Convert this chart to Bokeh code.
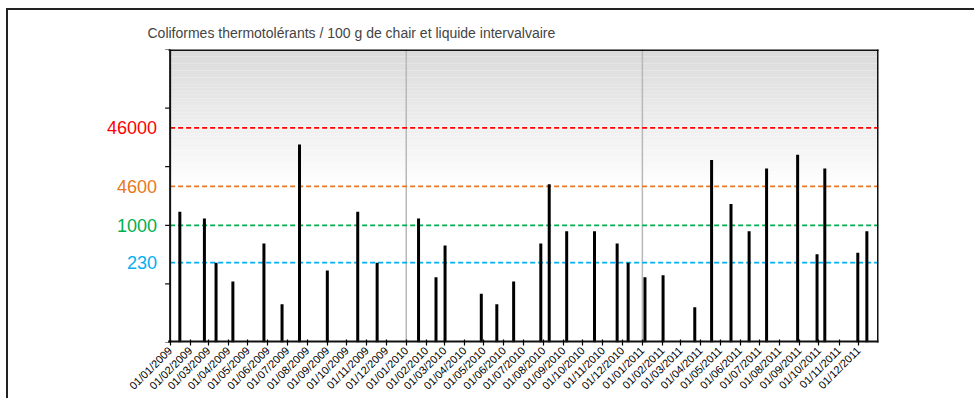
import math
import pandas as pd
from bokeh.plotting import figure
from bokeh.models import (Range1d, Span, BoxAnnotation, FixedTicker, ColumnDataSource,
                          DatetimeTickFormatter)
from bokeh.core.properties import value
from bokeh.embed import file_html
from bokeh.resources import INLINE

# ---- data ----
dates = ["2009-01-16", "2009-02-23", "2009-03-13", "2009-04-08", "2009-05-26",
         "2009-06-23", "2009-07-20", "2009-09-01", "2009-10-18", "2009-11-17",
         "2010-01-20", "2010-02-16", "2010-03-02", "2010-04-27", "2010-05-21",
         "2010-06-16", "2010-07-28", "2010-08-10", "2010-09-06", "2010-10-19",
         "2010-11-23", "2010-12-10", "2011-01-05", "2011-02-02", "2011-03-23",
         "2011-04-18", "2011-05-18", "2011-06-15", "2011-07-12", "2011-08-29",
         "2011-09-28", "2011-10-10", "2011-11-30", "2011-12-14"]
values = [1700, 1300, 230, 110, 490,
          45, 24000, 170, 1700, 230,
          1300, 130, 450, 68, 45,
          110, 490, 5000, 790, 790,
          490, 230, 130, 140, 40,
          13000, 2300, 790, 9300, 16000,
          320, 9300, 340, 790]

thresholds = [230, 1000, 4600, 46000]
threshold_labels = ["230", "1000", "4600", "46000"]
threshold_colors = ["#00B0F0", "#00B050", "#E87722", "#FF0000"]
year_lines = ["2010-01-01", "2011-01-01"]
month_ticks = [d.strftime("%Y-%m-%d") for d in pd.date_range("2009-01-01", "2011-12-01", freq="MS")]
y_ticks = [10, 100, 1000, 10000, 100000, 1000000]
x_start, x_end = "2009-01-01", "2012-01-01"
y_start, y_end = 10, 1000000
title_text = "Coliformes thermotolérants  / 100 g de chair et liquide intervalvaire"

FONT = "Liberation Sans"

# layout (canvas pixels)
W, H = 968, 390
FRAME_L, AREA_L, AREA_R = 92, 161.6, 869.7
TOP, BOTTOM = 39, 58


def ms(d):
    return pd.Timestamp(d).value / 1e6


s, e = ms(x_start), ms(x_end)
span_ms = e - s
left_ext = s - (AREA_L - FRAME_L) / (AREA_R - AREA_L) * span_ms
x = [ms(d) for d in dates]

p = figure(width=W, height=H, x_axis_type="datetime", y_axis_type="log",
           x_range=Range1d(left_ext, e), y_range=Range1d(y_start, y_end),
           output_backend="svg", toolbar_location=None, y_axis_location=None,
           min_border_left=FRAME_L, min_border_top=TOP, min_border_right=int(W - AREA_R),
           min_border_bottom=BOTTOM,
           styles={"border-left": "2px solid #222", "border-top": "2px solid #222",
                   "margin-left": "6px", "margin-top": "8px"})

p.background_fill_color = "white"
p.border_fill_color = "white"
p.outline_line_color = None
p.xgrid.visible = False
p.ygrid.visible = False

# gradient background (top grey to white) inside the plotting area
N = 40
lo, hi = 3.62, math.log10(y_end)
step = (hi - lo) / N
for i in range(N):
    t = i / (N - 1)
    c = int(round(218 + (255 - 218) * t))
    p.add_layout(BoxAnnotation(left=s, top=10 ** (hi - i * step),
                               bottom=10 ** (hi - (i + 1) * step),
                               fill_color=(c, c, c), fill_alpha=1.0, line_alpha=0,
                               level="underlay"))

# year separators
for d in year_lines:
    p.add_layout(Span(location=ms(d), dimension="height", line_color="#b8b8b8",
                      line_width=1.5, level="underlay"))

# threshold lines
n = len(thresholds)
p.segment(x0=[s] * n, x1=[e] * n, y0=thresholds, y1=thresholds, line_color=threshold_colors,
          line_width=1.7, line_dash="5 3")

# bars
p.segment(x0=x, y0=[y_start] * len(x), x1=x, y1=values, line_color="black",
          line_width=3, line_cap="butt")

# plot-area border: left (y axis line), bottom (x axis line), top, right
p.segment(x0=[s, s, s, e], y0=[y_start, y_start, y_end, y_start],
          x1=[s, e, e, e], y1=[y_end, y_start, y_end, y_end],
          line_color="#111111", line_width=[2, 4, 3, 3], line_cap="square")

# y-axis decade ticks
p.ray(x=[s] * len(y_ticks), y=y_ticks, length=5, length_units="screen", angle=math.pi,
      line_color="#111111", line_width=1.2)

# coloured threshold labels
src = ColumnDataSource(dict(x=[s] * n, y=thresholds, text=threshold_labels,
                            color=threshold_colors))
p.text(x="x", y="y", text="text", text_color="color", source=src, x_offset=-13,
       text_align="right", text_baseline="middle",
       text_font=value(FONT), text_font_size="18px")

# x axis
p.xaxis.ticker = FixedTicker(ticks=[ms(d) for d in month_ticks], minor_ticks=[])
fmt = "%d/%m/%Y"
p.xaxis.formatter = DatetimeTickFormatter(years=fmt, months=fmt, days=fmt, hours=fmt,
                                          hourmin=fmt, minutes=fmt, seconds=fmt,
                                          milliseconds=fmt, microseconds=fmt, minsec=fmt)
p.xaxis.major_label_orientation = math.pi / 4
p.xaxis.major_label_text_font = FONT
p.xaxis.major_label_text_font_size = "11px"
p.xaxis.major_label_text_color = "black"
p.xaxis.major_tick_in = 3
p.xaxis.major_tick_out = 3
p.xaxis.minor_tick_line_color = None
p.xaxis.axis_line_color = None
p.xaxis.major_tick_line_width = 1.2
p.xaxis.major_label_standoff = 3

# title
p.title.text = title_text
p.title.text_font = FONT
p.title.text_font_size = "14px"
p.title.text_font_style = "normal"
p.title.align = "left"
p.title.offset = 139 - FRAME_L
p.title.standoff = 17

open("out.html", "w").write(file_html(p, INLINE))
